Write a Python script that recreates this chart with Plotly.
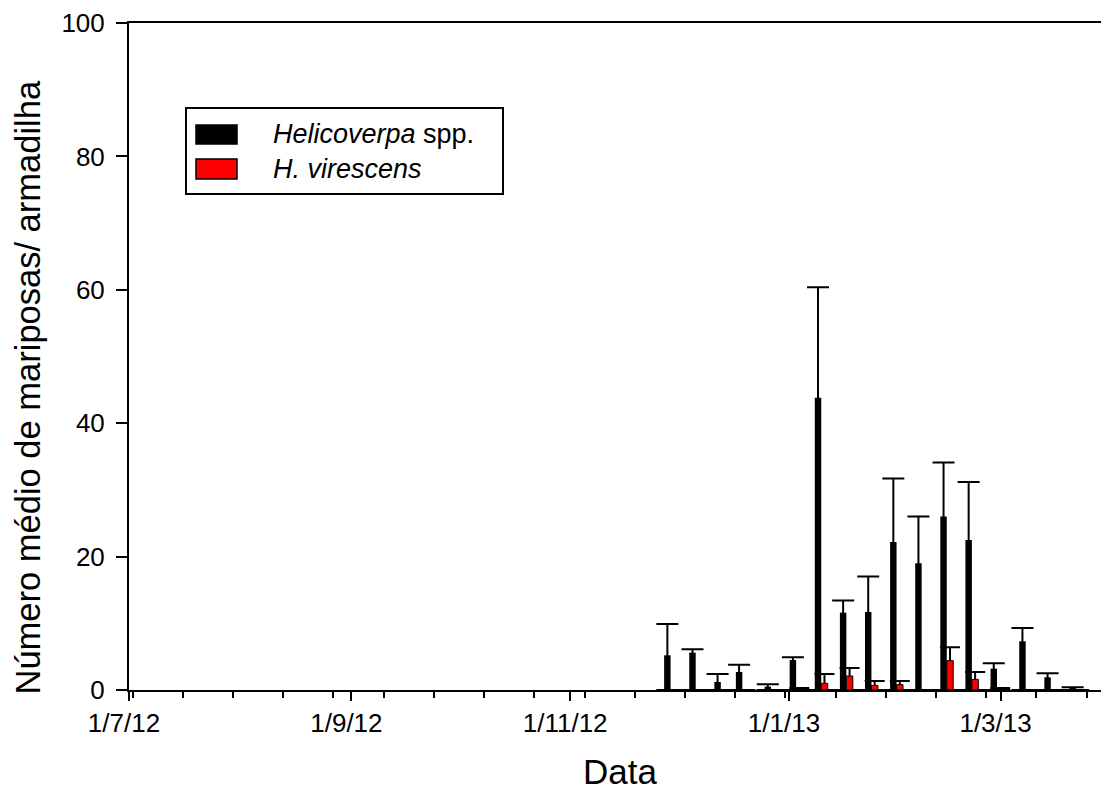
import plotly.graph_objects as go

# ---------------- data ----------------
dates = ["2012-11-29", "2012-12-06", "2012-12-13", "2012-12-19", "2012-12-27",
         "2013-01-03", "2013-01-10", "2013-01-17", "2013-01-24", "2013-01-31",
         "2013-02-07", "2013-02-14", "2013-02-21", "2013-02-28", "2013-03-08",
         "2013-03-15", "2013-03-22"]

helicoverpa = [5.2, 5.6, 1.2, 2.7, 0.5, 4.5, 43.8, 11.6, 11.7, 22.2,
               19.0, 26.0, 22.5, 3.2, 7.3, 1.9, 0.3]
helicoverpa_err = [4.7, 0.5, 1.2, 1.1, 0.35, 0.4, 16.6, 1.8, 5.3, 9.5,
                   7.0, 8.1, 8.7, 0.8, 2.0, 0.6, 0.1]

virescens = [0, 0, 0, 0, 0, 0.1, 1.0, 2.1, 0.7, 0.8,
             0, 4.4, 1.6, 0.1, 0, 0, 0]
virescens_err = [None, None, None, None, None, 0.2, 1.4, 1.2, 0.65, 0.55,
                 None, 2.0, 1.1, 0.2, None, None, None]

series_names = ["Helicoverpa spp.", "H. virescens"]
legend_labels = ["<i>Helicoverpa</i> spp.", "<i>H. virescens</i>"]
x_title = "Data"
y_title = "Número médio de mariposas/ armadilha"

# ---------------- layout constants ----------------
W, H = 1101, 789
ML, MR, MT, MB = 129, 0, 23, 99
PW, PH = W - ML - MR, H - MT - MB
DAY = 86400000
BAR_W = 1.8 * DAY
FONT = "Liberation Sans, Arial, sans-serif"


def px(x):
    return (x - ML) / PW


def py(y):
    return (H - MB - y) / PH


fig = go.Figure()

# black bars, their error bars (lower end hidden at the axis)
fig.add_trace(go.Bar(
    x=dates, y=helicoverpa, name=series_names[0], showlegend=False,
    width=BAR_W, offset=-BAR_W,
    marker=dict(color="black", line=dict(width=0)),
    error_y=dict(type="data", symmetric=False, array=helicoverpa_err,
                 arrayminus=helicoverpa, color="black", thickness=2, width=11),
))

# error bars of the red series (drawn before the red bars so the bars cover the lower part)
fig.add_trace(go.Bar(
    x=dates, y=virescens, showlegend=False, hoverinfo="skip",
    width=BAR_W, offset=0,
    marker=dict(color="rgba(0,0,0,0)", line=dict(width=0)),
    error_y=dict(type="data", symmetric=False, array=virescens_err,
                 arrayminus=virescens, color="black", thickness=2, width=10),
))

# red bars
fig.add_trace(go.Bar(
    x=dates, y=virescens, name=series_names[1], showlegend=False,
    width=BAR_W, offset=0,
    marker=dict(color="#ff0000", line=dict(color="black", width=1)),
))

axis_font = dict(family=FONT, size=26, color="black")

fig.update_layout(
    width=W, height=H,
    margin=dict(l=ML, r=MR, t=MT, b=MB, pad=0),
    paper_bgcolor="white", plot_bgcolor="white",
    barmode="overlay",
    showlegend=False,
    font=dict(family=FONT, color="black"),
    xaxis=dict(
        type="date",
        range=["2012-07-01", "2013-03-29"],
        tick0="2012-07-01", dtick="M2",
        tickformat="%-d/%-m/%y",
        ticks="outside", ticklen=9, tickwidth=2, tickcolor="black",
        showline=True, linewidth=2, linecolor="black", mirror=True,
        showgrid=False, zeroline=False,
        tickfont=axis_font,
        ticklabelshift=-5,
        minor=dict(tick0="2012-07-16", dtick=14 * DAY, ticks="outside",
                   ticklen=6, tickwidth=2, tickcolor="black", showgrid=False),
    ),
    yaxis=dict(
        range=[0, 100], dtick=20, tick0=0,
        ticks="outside", ticklen=11, tickwidth=2, tickcolor="black",
        showline=True, linewidth=2, linecolor="black",
        showgrid=False, zeroline=False,
        tickfont=axis_font,
        ticklabelstandoff=6,
    ),
)

# axis titles
fig.add_annotation(text=x_title, xref="paper", yref="paper",
                   x=px(620), y=py(771), xanchor="center", yanchor="middle",
                   height=34, showarrow=False,
                   font=dict(family=FONT, size=35, color="black"))
fig.add_annotation(text=y_title, xref="paper", yref="paper",
                   x=px(28), y=py(387.5), xanchor="center", yanchor="middle",
                   textangle=-90, showarrow=False,
                   font=dict(family=FONT, size=34.5, color="black"))

# legend box drawn in the plot
fig.add_shape(type="rect", xref="paper", yref="paper",
              x0=px(186), x1=px(503), y0=py(194), y1=py(108),
              line=dict(color="black", width=2), fillcolor="white", layer="above")
swatch_colors = ["black", "#ff0000"]
swatch_rows = [(125, 144, 134.5), (159, 179, 169)]
for lab, col, (t, b, c) in zip(legend_labels, swatch_colors, swatch_rows):
    fig.add_shape(type="rect", xref="paper", yref="paper",
                  x0=px(196), x1=px(237), y0=py(b), y1=py(t),
                  line=dict(color="black", width=1.5), fillcolor=col, layer="above")
    fig.add_annotation(text=lab, xref="paper", yref="paper",
                       x=px(271), y=py(c), xanchor="left", yanchor="middle",
                       showarrow=False, font=dict(family=FONT, size=27, color="black"))

fig.write_html("out.html")
